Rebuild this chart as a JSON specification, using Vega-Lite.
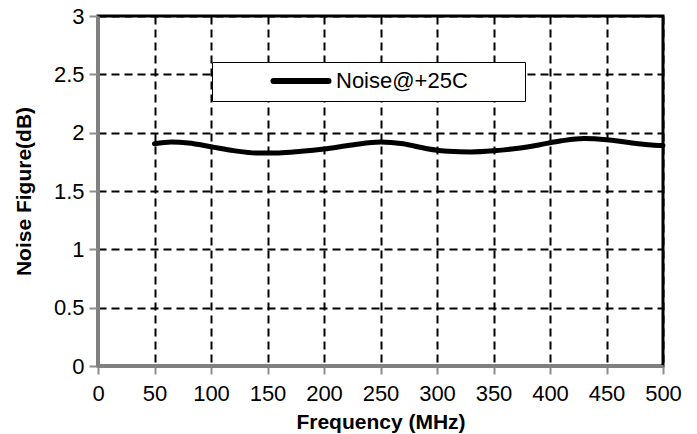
{
  "$schema": "https://vega.github.io/schema/vega-lite/v6.json",
  "autosize": "none",
  "padding": {"left": 98, "top": 16, "right": 34, "bottom": 68},
  "width": 565,
  "height": 350,
  "background": "white",
  "config": {
    "font": "Liberation Sans",
    "view": {"stroke": "black", "strokeWidth": 3}
  },
  "data": {
    "values": [
      {"freq": 50, "nf": 1.905, "series": "Noise@+25C"},
      {"freq": 65, "nf": 1.92, "series": "Noise@+25C"},
      {"freq": 80, "nf": 1.912, "series": "Noise@+25C"},
      {"freq": 100, "nf": 1.88, "series": "Noise@+25C"},
      {"freq": 120, "nf": 1.846, "series": "Noise@+25C"},
      {"freq": 140, "nf": 1.826, "series": "Noise@+25C"},
      {"freq": 160, "nf": 1.826, "series": "Noise@+25C"},
      {"freq": 180, "nf": 1.84, "series": "Noise@+25C"},
      {"freq": 200, "nf": 1.86, "series": "Noise@+25C"},
      {"freq": 225, "nf": 1.895, "series": "Noise@+25C"},
      {"freq": 250, "nf": 1.92, "series": "Noise@+25C"},
      {"freq": 270, "nf": 1.905, "series": "Noise@+25C"},
      {"freq": 290, "nf": 1.865, "series": "Noise@+25C"},
      {"freq": 310, "nf": 1.84, "series": "Noise@+25C"},
      {"freq": 330, "nf": 1.835, "series": "Noise@+25C"},
      {"freq": 350, "nf": 1.845, "series": "Noise@+25C"},
      {"freq": 370, "nf": 1.865, "series": "Noise@+25C"},
      {"freq": 390, "nf": 1.895, "series": "Noise@+25C"},
      {"freq": 410, "nf": 1.93, "series": "Noise@+25C"},
      {"freq": 430, "nf": 1.95, "series": "Noise@+25C"},
      {"freq": 450, "nf": 1.94, "series": "Noise@+25C"},
      {"freq": 470, "nf": 1.915, "series": "Noise@+25C"},
      {"freq": 490, "nf": 1.895, "series": "Noise@+25C"},
      {"freq": 500, "nf": 1.89, "series": "Noise@+25C"}
    ]
  },
  "mark": {"type": "line", "strokeWidth": 5, "interpolate": "monotone", "strokeCap": "round"},
  "encoding": {
    "x": {
      "field": "freq", "type": "quantitative",
      "scale": {"domain": [0, 500], "nice": false},
      "axis": {
        "values": [0, 50, 100, 150, 200, 250, 300, 350, 400, 450, 500],
        "format": "d",
        "title": "Frequency (MHz)",
        "titleFontSize": 21, "titleFontWeight": "bold", "titleColor": "black", "titlePadding": 7,
        "labelFontSize": 22, "labelColor": "black", "labelPadding": 9, "labelFlush": false,
        "tickSize": 8, "tickColor": "#8c8c8c", "tickWidth": 2,
        "domainColor": "#808080", "domainWidth": 3,
        "grid": true, "gridColor": "black", "gridWidth": 2, "gridDash": [8, 5], "gridOpacity": 1
      }
    },
    "y": {
      "field": "nf", "type": "quantitative",
      "scale": {"domain": [0, 3], "nice": false},
      "axis": {
        "values": [0, 0.5, 1, 1.5, 2, 2.5, 3],
        "format": "~g",
        "title": "Noise Figure(dB)",
        "titleFontSize": 21, "titleFontWeight": "bold", "titleColor": "black", "titlePadding": 19,
        "labelFontSize": 22, "labelColor": "black", "labelPadding": 5, "labelFlush": false,
        "tickSize": 9, "tickColor": "#8c8c8c", "tickWidth": 2,
        "domainColor": "#808080", "domainWidth": 3,
        "grid": true, "gridColor": "black", "gridWidth": 2, "gridDash": [8, 5], "gridOpacity": 1
      }
    },
    "color": {
      "field": "series", "type": "nominal",
      "scale": {"range": ["black"]},
      "legend": {
        "title": null,
        "orient": "none", "legendX": 114, "legendY": 46,
        "fillColor": "white", "strokeColor": "black", "padding": 8,
        "symbolType": "M-5,0H5", "symbolSize": 121, "symbolStrokeWidth": 6,
        "symbolStrokeColor": "black", "symbolOffset": 70,
        "labelOffset": 24, "labelFontSize": 22, "labelColor": "black", "labelLimit": 0,
        "labelExpr": "datum.label + '        \u200b'",
        "encode": {"symbols": {"update": {"strokeCap": {"value": "round"}}}}
      }
    }
  }
}
